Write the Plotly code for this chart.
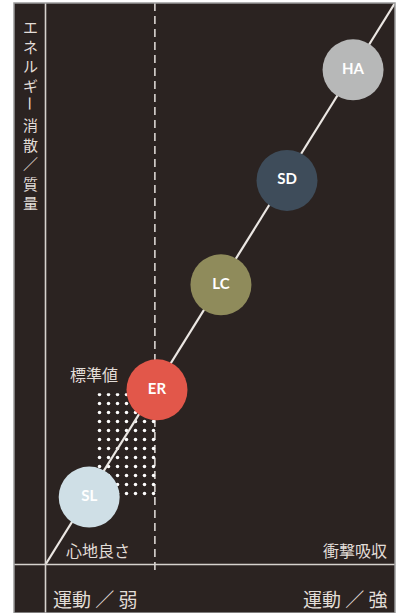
import plotly.graph_objects as go

# ---- data ----
products = ["SL", "ER", "LC", "SD", "HA"]
motion = [1.25, 3.19, 5.02, 6.91, 8.80]          # 運動 (弱 -> 強)
energy = [1.20, 3.11, 4.98, 6.84, 8.81]          # エネルギー消散／質量
colors = ["#cfdfe6", "#e2574a", "#8f8b5b", "#3e4c5a", "#b7b8b8"]
standard_value = 3.13                            # 標準値
trend_x = [0, 10]
trend_y = [0, 10]
dot_zone_x = [1.36, 3.16]
dot_zone_y = [1.22, 3.05]

y_title_top = "エ<br>ネ<br>ル<br>ギ"
y_title_bar = "ー"
y_title_bottom = "消<br>散<br>／<br>質<br>量"
x_low = "運動 ／ 弱"
x_high = "運動 ／ 強"
low_note = "心地良さ"
high_note = "衝撃吸収"
std_note = "標準値"

W, H = 402, 613
ML, MR, MT, MB = 14, 7, 3, 0
PW, PH = W - ML - MR, H - MT - MB

BG = "#2b2321"
TXT = "#e2ddd8"
JP = "Noto Sans CJK JP"


def px(x, y):
    return (x - ML) / PW, (H - MB - y) / PH


fig = go.Figure()

# dotted zone
fig.add_trace(go.Scatter(
    x=[dot_zone_x[0], dot_zone_x[1], dot_zone_x[1], dot_zone_x[0], dot_zone_x[0]],
    y=[dot_zone_y[0], dot_zone_y[0], dot_zone_y[1], dot_zone_y[1], dot_zone_y[0]],
    mode="none", fill="toself", fillcolor="rgba(0,0,0,0)",
    fillpattern=dict(shape=".", size=9, solidity=0.12, fgcolor="#ffffff",
                     bgcolor="rgba(0,0,0,0)", fillmode="replace"),
    hoverinfo="skip", showlegend=False))

# trend line
fig.add_trace(go.Scatter(
    x=trend_x, y=trend_y, mode="lines",
    line=dict(color="#ebe7e3", width=2.2),
    hoverinfo="skip", showlegend=False))

# product circles
fig.add_trace(go.Scatter(
    x=motion, y=energy, mode="markers+text",
    marker=dict(size=61, color=colors, line=dict(width=0), opacity=1),
    text=products, textposition="middle center",
    textfont=dict(family="Lato", size=15, color="#ffffff", weight="bold"),
    hoverinfo="skip", showlegend=False))

shapes = [
    # y axis
    dict(type="line", xref="x", yref="paper", x0=0, x1=0, y0=0, y1=1,
         line=dict(color="#d6d2ce", width=1.6), layer="above"),
    # x axis
    dict(type="line", xref="paper", yref="y", x0=0, x1=1, y0=0, y1=0,
         line=dict(color="#d6d2ce", width=1.6), layer="above"),
    # standard value dashed
    dict(type="line", xref="x", yref="paper", x0=standard_value, x1=standard_value,
         y0=px(0, 570)[1], y1=1,
         line=dict(color="#e6e2de", width=1.5, dash="8px,5px"), layer="below"),
    # frame border
    dict(type="rect", xref="paper", yref="paper", x0=0, x1=1, y0=0, y1=1,
         line=dict(color="#9a9a9a", width=1.5), layer="above"),
]

annotations = []


def note(text, x, y, size, xanchor="left", yanchor="middle", angle=0):
    ax, ay = px(x, y)
    annotations.append(dict(
        text=text, xref="paper", yref="paper", x=ax, y=ay,
        xanchor=xanchor, yanchor=yanchor, showarrow=False, textangle=angle,
        font=dict(family=JP, size=size, color=TXT)))


# vertical y title
note(y_title_top, 30, 14, 15, "center", "top")
note(y_title_bar, 30, 103, 15, "center", "middle", 90)
note(y_title_bottom, 30, 112, 15, "center", "top")

note(std_note, 68, 374, 16)
note(low_note, 64, 550, 16)
note(high_note, 389, 550, 16, "right")
note(x_low, 51, 598, 19)
note(x_high, 390, 598, 19, "right")

fig.update_layout(
    width=W, height=H,
    margin=dict(l=ML, r=MR, t=MT, b=MB),
    paper_bgcolor="#ffffff", plot_bgcolor=BG,
    xaxis=dict(range=[(ML - 45.5) / 34.95, 10], visible=False, fixedrange=True),
    yaxis=dict(range=[(564.5 - H) / 56.15, 10], visible=False, fixedrange=True),
    shapes=shapes, annotations=annotations,
    showlegend=False,
)

fig.write_html("out.html", config={"displayModeBar": False},
               post_script="document.body.style.margin='0';document.body.style.overflow='hidden';")
